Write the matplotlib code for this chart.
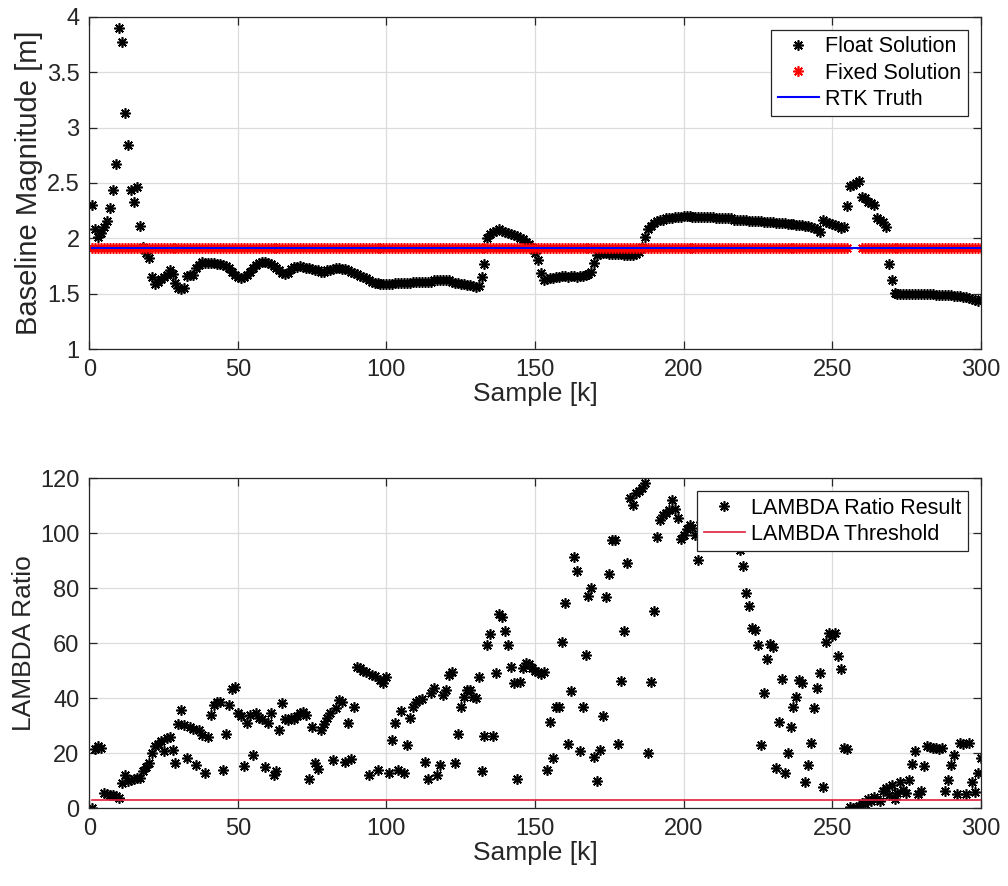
import numpy as np
import matplotlib
matplotlib.use('Agg')
import matplotlib.pyplot as plt

plt.rcParams['font.family'] = ['Liberation Sans', 'DejaVu Sans']

# baseline magnitude of the float solution, one value per sample k = 1..300
float_solution = [
    2.30, 2.08, 2.01, 2.05, 2.10, 2.16, 2.27, 2.44, 2.67, 3.90,
    3.77, 3.13, 2.84, 2.44, 2.33, 2.46, 2.11, 1.92, 1.87, 1.82,
    1.65, 1.59, 1.61, 1.63, 1.65, 1.67, 1.71, 1.68, 1.60, 1.55,
    1.54, 1.55, 1.66, 1.67, 1.67, 1.73, 1.76, 1.79, 1.78, 1.78,
    1.78, 1.78, 1.77, 1.77, 1.76, 1.75, 1.73, 1.70, 1.67, 1.65,
    1.64, 1.65, 1.67, 1.70, 1.73, 1.76, 1.78, 1.79, 1.79, 1.78,
    1.77, 1.75, 1.73, 1.71, 1.69, 1.68, 1.69, 1.72, 1.74, 1.74,
    1.75, 1.74, 1.73, 1.73, 1.72, 1.71, 1.71, 1.70, 1.70, 1.71,
    1.71, 1.72, 1.73, 1.73, 1.72, 1.72, 1.71, 1.70, 1.69, 1.68,
    1.66, 1.65, 1.64, 1.62, 1.61, 1.60, 1.60, 1.59, 1.59, 1.59,
    1.59, 1.59, 1.60, 1.60, 1.60, 1.60, 1.60, 1.60, 1.61, 1.61,
    1.61, 1.61, 1.61, 1.61, 1.61, 1.62, 1.62, 1.62, 1.62, 1.62,
    1.62, 1.61, 1.60, 1.60, 1.59, 1.59, 1.58, 1.58, 1.57, 1.56,
    1.57, 1.65, 1.77, 2.00, 2.04, 2.06, 2.07, 2.08, 2.07, 2.06,
    2.05, 2.04, 2.03, 2.02, 2.00, 1.99, 1.97, 1.95, 1.92, 1.87,
    1.80, 1.69, 1.62, 1.63, 1.64, 1.64, 1.65, 1.65, 1.66, 1.66,
    1.65, 1.66, 1.66, 1.65, 1.66, 1.66, 1.67, 1.68, 1.70, 1.78,
    1.85, 1.86, 1.87, 1.87, 1.86, 1.86, 1.86, 1.86, 1.86, 1.85,
    1.85, 1.85, 1.85, 1.86, 1.88, 1.92, 2.01, 2.08, 2.11, 2.14,
    2.16, 2.17, 2.17, 2.18, 2.18, 2.18, 2.19, 2.19, 2.19, 2.20,
    2.20, 2.20, 2.19, 2.19, 2.19, 2.19, 2.19, 2.19, 2.19, 2.19,
    2.18, 2.18, 2.18, 2.18, 2.18, 2.18, 2.17, 2.17, 2.17, 2.17,
    2.17, 2.16, 2.16, 2.16, 2.16, 2.16, 2.15, 2.15, 2.15, 2.15,
    2.14, 2.14, 2.14, 2.14, 2.13, 2.13, 2.13, 2.12, 2.12, 2.12,
    2.11, 2.11, 2.10, 2.09, 2.08, 2.06, 2.17, 2.15, 2.14, 2.13,
    2.12, 2.11, 2.09, 2.10, 2.29, 2.47, 2.48, 2.50, 2.52, 2.37,
    2.36, 2.33, 2.32, 2.30, 2.18, 2.17, 2.15, 2.10, 1.77, 1.62,
    1.51, 1.50, 1.50, 1.50, 1.50, 1.50, 1.50, 1.50, 1.50, 1.50,
    1.50, 1.50, 1.50, 1.50, 1.49, 1.49, 1.49, 1.49, 1.49, 1.49,
    1.48, 1.48, 1.48, 1.47, 1.47, 1.46, 1.45, 1.44, 1.43, 1.45,
]

rtk_truth = 1.91
fixed_level = 1.91
fixed_missing = [256, 257, 258, 259]   # ratio test failed, no fixed baseline

# LAMBDA ratio test value per sample k = 1..300
lambda_ratio = [
    0.2, 21.5, 22.5, 22.0, 5.6, 5.2, 5.0, 4.8, 4.6, 3.6,
    9.2, 12.0, 10.0, 10.4, 10.6, 11.0, 11.0, 13.4, 15.0, 16.4,
    20.0, 22.5, 23.5, 24.3, 21.0, 25.5, 26.0, 21.3, 16.6, 30.7,
    35.8, 30.3, 18.2, 29.7, 29.0, 15.8, 28.5, 26.7, 13.0, 25.9,
    34.0, 37.6, 38.5, 38.8, 14.0, 27.0, 37.6, 43.5, 44.0, 34.6,
    33.5, 15.2, 31.0, 34.0, 19.4, 34.6, 33.0, 32.4, 15.0, 31.0,
    34.6, 12.2, 13.4, 28.5, 38.2, 32.5, 32.0, 32.8, 32.5, 33.5,
    34.5, 35.0, 34.0, 10.6, 29.5, 16.4, 14.2, 28.3, 30.5, 32.8,
    34.6, 17.6, 36.4, 39.2, 38.5, 17.0, 31.0, 17.8, 36.8, 51.5,
    51.0, 50.0, 49.5, 12.2, 48.5, 48.0, 14.0, 46.5, 45.5, 47.6,
    12.8, 24.9, 31.0, 14.0, 35.2, 12.8, 23.1, 32.8, 37.0, 38.5,
    39.4, 39.6, 17.0, 10.6, 41.9, 43.7, 12.2, 15.8, 41.3, 43.0,
    48.5, 49.7, 16.4, 27.0, 36.8, 40.6, 43.0, 43.0, 40.3, 40.0,
    47.7, 13.4, 26.3, 59.4, 63.4, 26.3, 49.3, 70.7, 69.5, 64.3,
    59.4, 51.5, 45.5, 10.6, 46.0, 51.0, 52.8, 52.5, 51.0, 50.0,
    49.5, 49.0, 49.5, 14.0, 31.2, 18.2, 37.0, 37.0, 60.6, 74.6,
    23.4, 42.8, 91.3, 86.3, 20.9, 36.8, 55.8, 77.2, 80.0, 18.8,
    10.1, 21.3, 33.6, 77.0, 85.1, 97.6, 97.6, 23.4, 46.4, 64.3,
    89.1, 112.8, 110.3, 114.5, 115.5, 116.5, 118.3, 20.0, 46.1, 71.9,
    98.8, 104.8, 106.5, 107.5, 108.3, 112.0, 109.0, 105.5, 98.0, 99.5,
    101.5, 103.0, 102.0, 99.4, 90.3, 104.0, 106.0, 103.0, 101.0, 105.0,
    102.0, 100.0, 103.0, 99.0, 101.0, 98.0, 100.0, 97.0, 93.9, 88.1,
    78.2, 73.6, 65.5, 65.0, 59.4, 23.1, 42.1, 54.2, 59.8, 58.8,
    14.6, 31.5, 46.9, 12.8, 20.0, 29.7, 37.0, 40.4, 46.7, 45.7,
    9.4, 15.8, 23.9, 36.4, 43.7, 49.1, 7.9, 60.6, 63.6, 62.5,
    63.6, 55.4, 50.6, 21.9, 21.5, 0.3, 0.0, 0.2, 0.9, 2.0,
    1.5, 3.3, 2.8, 4.0, 3.5, 2.5, 6.2, 7.4, 5.0, 8.6,
    3.3, 5.5, 9.7, 6.5, 5.5, 10.3, 16.2, 21.0, 5.2, 6.4,
    15.3, 22.5, 22.2, 22.0, 22.0, 21.5, 21.9, 6.4, 10.3, 15.6,
    19.4, 5.2, 23.7, 23.5, 5.2, 23.7, 9.7, 6.0, 12.8, 18.2,
]
lambda_threshold = 3

k = np.arange(1, len(float_solution) + 1)
fixed_solution = np.where(np.isin(k, fixed_missing), np.nan, fixed_level)
truth = np.full(len(k), rtk_truth)
threshold = np.full(len(k), lambda_threshold)

star = (8, 2, 0)   # eight-spoke asterisk
axis_col = '#262626'


def style_axes(ax):
    ax.grid(True, color='#dcdcdc', linewidth=0.9)
    ax.set_axisbelow(True)
    for s in ax.spines.values():
        s.set_color(axis_col)
        s.set_linewidth(0.9)
    ax.tick_params(direction='in', top=True, right=True, length=6, width=0.9,
                   labelsize=17, colors=axis_col, pad=7)
    ax.set_xlim(0, 300)
    ax.set_xticks([0, 50, 100, 150, 200, 250, 300])
    ax.set_xlabel('Sample [k]', fontsize=19, color=axis_col, labelpad=1)


fig = plt.figure(figsize=(10.08, 8.86), dpi=100)
ax1 = fig.add_axes([0.0886, 0.606, 0.8843, 0.375])
ax2 = fig.add_axes([0.0886, 0.0877, 0.8843, 0.3725])

# top: baseline magnitude
ax1.plot(k, float_solution, linestyle='none', marker=star, ms=7.5, mew=1.2,
         color='black', label='Float Solution')
ax1.plot(k, fixed_solution, linestyle='none', marker=star, ms=7.5, mew=1.2,
         color='red', label='Fixed Solution')
ax1.plot(k, truth, color='blue', linewidth=1.5, label='RTK Truth')
style_axes(ax1)
ax1.set_ylim(1, 4)
ax1.set_yticks([1, 1.5, 2, 2.5, 3, 3.5, 4])
ax1.set_yticklabels(['1', '1.5', '2', '2.5', '3', '3.5', '4'])
ax1.set_ylabel('Baseline Magnitude [m]', fontsize=21, color=axis_col, labelpad=3)
leg1 = ax1.legend(loc='upper right', fontsize=15.5, frameon=True, fancybox=False,
                  edgecolor=axis_col, framealpha=1, handlelength=1.9,
                  handletextpad=0.3, labelspacing=0.25, borderpad=0.3,
                  borderaxespad=0.6)
leg1.get_frame().set_linewidth(0.9)

# bottom: LAMBDA ratio test
ax2.plot(k, lambda_ratio, linestyle='none', marker=star, ms=7.5, mew=1.2,
         color='black', label='LAMBDA Ratio Result')
ax2.plot(k, threshold, color='#e0203c', linewidth=1.2, label='LAMBDA Threshold')
style_axes(ax2)
ax2.set_ylim(0, 120)
ax2.set_yticks([0, 20, 40, 60, 80, 100, 120])
ax2.set_ylabel('LAMBDA Ratio', fontsize=19, color=axis_col, labelpad=3)
leg2 = ax2.legend(loc='upper right', fontsize=15.5, frameon=True, fancybox=False,
                  edgecolor=axis_col, framealpha=1, handlelength=1.9,
                  handletextpad=0.3, labelspacing=0.25, borderpad=0.3,
                  borderaxespad=0.6)
leg2.get_frame().set_linewidth(0.9)

fig.savefig('out.png', dpi=100)
